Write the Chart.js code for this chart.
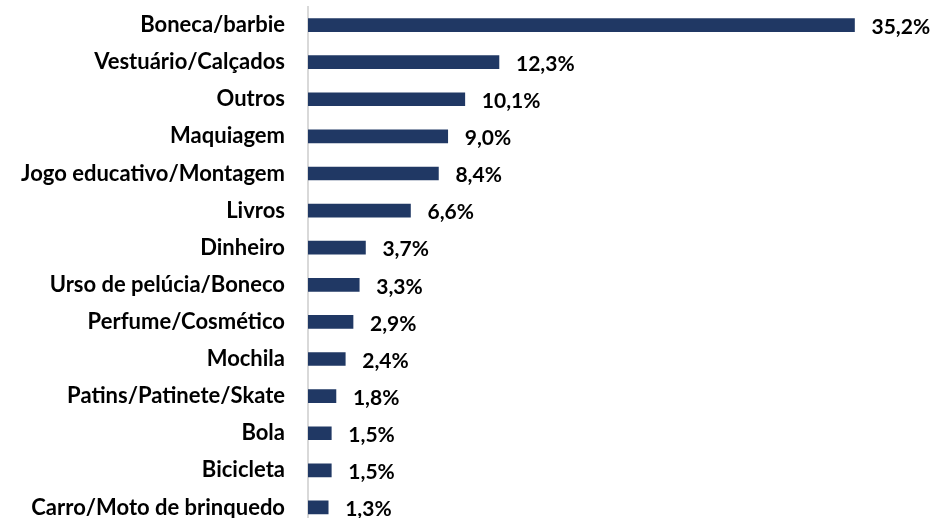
<!DOCTYPE html>
<html>
<head>
<meta charset="utf-8">
<script src="https://cdn.jsdelivr.net/npm/chart.js@4"></script>
<style>
  html, body { margin: 0; padding: 0; background: #fff; overflow: hidden; }
  canvas { display: block; }
</style>
</head>
<body>
<canvas id="giftChart" width="934" height="526"></canvas>
<script>
const categories = [
    'Boneca/barbie', 'Vestuário/Calçados', 'Outros', 'Maquiagem',
    'Jogo educativo/Montagem', 'Livros', 'Dinheiro', 'Urso de pelúcia/Boneco',
    'Perfume/Cosmético', 'Mochila', 'Patins/Patinete/Skate', 'Bola',
    'Bicicleta', 'Carro/Moto de brinquedo'
];
const shares = [35.2, 12.3, 10.1, 9.0, 8.4, 6.6, 3.7, 3.3, 2.9, 2.4, 1.8, 1.5, 1.5, 1.3];

const fontFamily = 'Lato, "Open Sans", sans-serif';

// draw the value next to each bar
const valueLabels = {
    id: 'valueLabels',
    afterDatasetsDraw(chart) {
        const ctx = chart.ctx;
        const meta = chart.getDatasetMeta(0);
        ctx.save();
        ctx.font = 'bold 21px ' + fontFamily;
        ctx.fillStyle = '#000';
        ctx.textBaseline = 'middle';
        ctx.textAlign = 'left';
        meta.data.forEach((bar, i) => {
            const txt = shares[i].toFixed(1).replace('.', ',') + '%';
            ctx.fillText(txt, bar.x + 17, bar.y + 2);
        });
        ctx.restore();
    }
};

const ctx = document.getElementById('giftChart').getContext('2d');
new Chart(ctx, {
    type: 'bar',
    data: {
        labels: categories,
        datasets: [{
            data: shares,
            backgroundColor: '#203864',
            barThickness: 13,
            borderWidth: 0
        }]
    },
    options: {
        indexAxis: 'y',
        responsive: false,
        animation: false,
        devicePixelRatio: 1,
        layout: { autoPadding: false, padding: { top: 6.5, right: 5, bottom: 0, left: 0 } },
        scales: {
            x: { min: 0, max: 40, display: false },
            y: {
                afterFit(scale) {
                    scale.width = 308;
                    scale.paddingTop = 0;
                    scale.paddingBottom = 0;
                },
                grid: { display: false, drawTicks: false },
                border: { color: '#d9d9d9', width: 2 },
                ticks: {
                    padding: 23,
                    color: '#000',
                    font: { family: fontFamily, size: 22, weight: 'bold' }
                }
            }
        },
        plugins: { legend: { display: false }, tooltip: { enabled: false } }
    },
    plugins: [valueLabels]
});
</script>
</body>
</html>
